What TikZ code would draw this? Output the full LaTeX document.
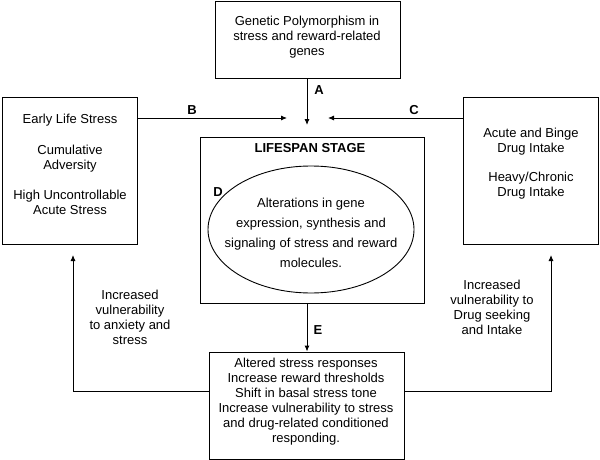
\documentclass[tikz,border=0pt]{standalone}
\usepackage{fontspec}
\setmainfont{Liberation Sans}
\usetikzlibrary{arrows.meta,shapes.geometric}
\begin{document}
\begin{tikzpicture}[x=1pt,y=-1pt,
  every node/.style={font=\fontsize{13}{15}\selectfont, inner sep=0pt},
  box/.style={draw, line width=0.9pt, rectangle},
  txt/.style={align=center},
  lbl/.style={font=\fontsize{13}{15}\selectfont\bfseries},
  conn/.style={line width=0.9pt},
  arr/.style={line width=0.9pt, -{Latex[length=6pt,width=5pt]}}]
\useasboundingbox (0,0) rectangle (600,460);
% boxes
\node[box, minimum width=185pt, minimum height=77pt] (top) at (307.5,39.5) {};
\node[box, minimum width=135pt, minimum height=147pt] (left) at (69.5,170.5) {};
\node[box, minimum width=135pt, minimum height=147pt] (right) at (530.5,170.5) {};
\node[box, minimum width=224pt, minimum height=166pt] (center) at (312,220) {};
\node[box, minimum width=195.5pt, minimum height=107pt] (bottom) at (306.75,405.5) {};
\node[draw, ellipse, line width=0.9pt, minimum width=206pt, minimum height=127pt] (ell) at (311,229.5) {};
% texts
\node[txt] (toptext) at (307,37.5) {Genetic Polymorphism in\\stress and reward-related\\genes};
\node[txt] (lefttext) at (70,164) {Early Life Stress\\[16pt]Cumulative\\Adversity\\[15pt]High Uncontrollable\\Acute Stress};
\node[txt] (righttext) at (531,164) {Acute and Binge\\Drug Intake\\[14pt]Heavy/Chronic\\Drug Intake};
\node[lbl] (life) at (310,148) {LIFESPAN STAGE};
\node[txt, font=\fontsize{13}{20}\selectfont] (elltext) at (311,232.5) {Alterations in gene\\expression, synthesis and\\signaling of stress and reward\\molecules.};
\node[lbl] (dlab) at (218,192) {D};
\node[txt] (bottext) at (306,401.5) {Altered stress responses\\Increase reward thresholds\\Shift in basal stress tone\\Increase vulnerability to stress\\and drug-related conditioned\\responding.};
\node[txt] (ltext) at (130,317.5) {Increased\\vulnerability\\to anxiety and\\stress};
\node[txt] (rtext) at (492,307.5) {Increased\\vulnerability to\\Drug seeking\\and Intake};
% connector end points
\coordinate (aend) at (307,125);
\coordinate (bend) at (287,118);
\coordinate (cend) at (328,118);
\coordinate (lcorner) at (73,391);
\coordinate (lend) at (73,255);
\coordinate (rcorner) at (551,391);
\coordinate (rend) at (551,255);
% connectors
\draw[arr] (top.south -| aend) -- (aend);
\node[lbl] (alab) at (319,90) {A};
\draw[arr] (left.east |- bend) -- (bend);
\node[lbl] (blab) at (192,110) {B};
\draw[arr] (right.west |- cend) -- (cend);
\node[lbl] (clab) at (414,110) {C};
\draw[arr] (center.south -| aend) -- (bottom.north -| aend);
\node[lbl] (elab) at (318,330) {E};
\draw[arr] (bottom.west |- lcorner) -- (lcorner) -- (lend);
\draw[arr] (bottom.east |- rcorner) -- (rcorner) -- (rend);
\end{tikzpicture}
\end{document}
